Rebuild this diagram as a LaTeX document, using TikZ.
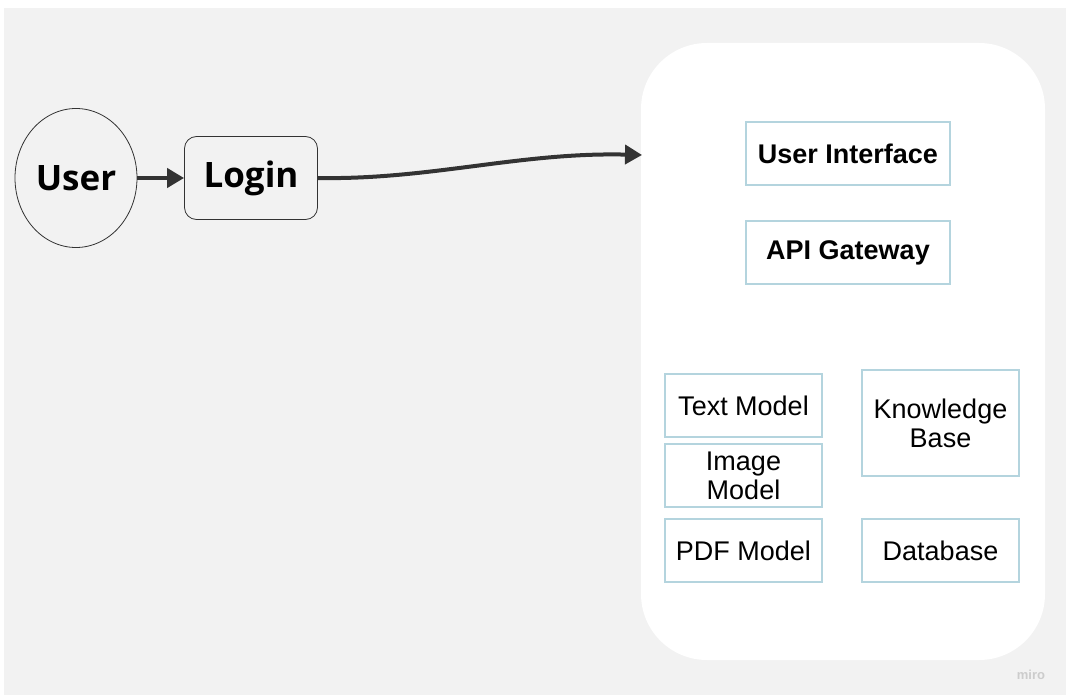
\documentclass[tikz,border=0pt]{standalone}
\usepackage{fontspec}
\setmainfont{Liberation Sans}
\newfontfamily\opensans{Open Sans}
\usetikzlibrary{shapes.geometric,arrows.meta}
\definecolor{boardgray}{HTML}{F2F2F2}
\definecolor{boxline}{HTML}{B4D4DE}
\definecolor{arrowdark}{HTML}{333333}
\tikzset{
  actor/.style={ellipse, draw=arrowdark, line width=0.8pt, fill=boardgray,
    minimum width=122pt, minimum height=139pt, inner sep=0pt,
    font=\opensans\bfseries\fontsize{35}{40}\selectfont},
  stepnode/.style={rectangle, rounded corners=12pt, draw=arrowdark, line width=0.8pt,
    fill=boardgray, minimum width=133pt, minimum height=83pt, inner sep=0pt,
    font=\opensans\bfseries\fontsize{35}{40}\selectfont},
  layerbox/.style={rectangle, draw=boxline, line width=1.2pt, fill=white,
    minimum width=204pt, minimum height=63pt, inner sep=0pt,
    font=\bfseries\fontsize{27}{29}\selectfont},
  modelbox/.style={rectangle, draw=boxline, line width=1.2pt, fill=white,
    minimum width=157pt, minimum height=63pt, inner sep=0pt, align=center,
    font=\fontsize{27}{29}\selectfont},
  flow/.style={draw=arrowdark, line width=4pt, -{Triangle[length=17pt,width=19pt]}},
}
\begin{document}
\begin{tikzpicture}[x=1pt,y=-1pt]
  \useasboundingbox (0,0) rectangle (1066,695);
  \fill[boardgray] (4,8) rectangle (1066,695);
  % white board
  \node[fill=white, rounded corners=66pt, minimum width=404pt, minimum height=617pt,
    inner sep=0pt] (panel) at (843,351.5) {};
  % user and login
  \node[actor] (user) at (76,178) {User};
  \node[stepnode] (login) at (251,178) {Login};
  \coordinate (panelin) at (642,155);
  \draw[flow] (user) -- (login);
  \draw[flow] (login.east) .. controls (430,180) and (520,152) .. (panelin);
  % layers
  \node[layerbox] (ui) at (848,153.5) {User Interface};
  \node[layerbox] (api) at (848,252.5) {API Gateway};
  % models
  \node[modelbox] (textm) at (743.5,405.5) {Text Model};
  \node[modelbox] (imagem) at (743.5,475.5) {Image\\Model};
  \node[modelbox] (pdfm) at (743.5,550.5) {PDF Model};
  \node[modelbox, minimum height=106pt] (kb) at (940.5,423) {Knowledge\\Base};
  \node[modelbox] (db) at (940.5,550.5) {Database};
  \node[text=black!20, font=\bfseries\fontsize{13}{15}\selectfont] (wm) at (1031,675) {miro};
\end{tikzpicture}
\end{document}
